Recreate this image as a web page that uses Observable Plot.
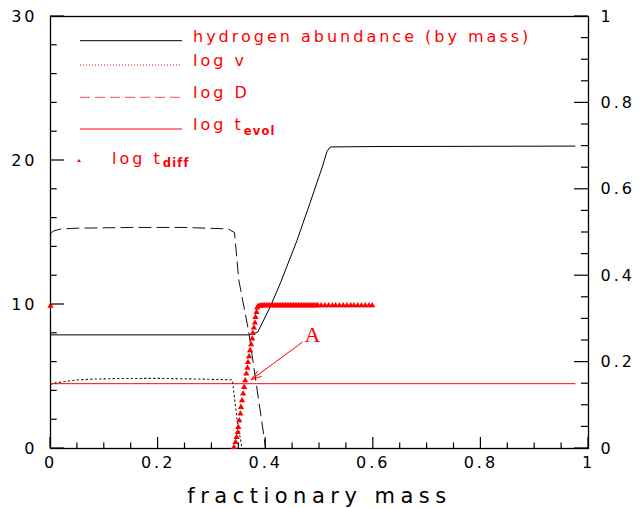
<!DOCTYPE html>
<html>
<head>
<meta charset="utf-8">
<script src="https://cdn.jsdelivr.net/npm/d3@7"></script>
<script src="https://cdn.jsdelivr.net/npm/@observablehq/plot@0.6"></script>
<style>
  html, body { margin: 0; padding: 0; background: #fff; }
  #chart { width: 644px; height: 508px; }
</style>
</head>
<body>
<div id="chart"></div>
<script>
// ---------- data ----------
const xMajor = [0, 0.2, 0.4, 0.6, 0.8, 1];
const xMinor = [0.05, 0.1, 0.15, 0.25, 0.3, 0.35, 0.45, 0.5, 0.55, 0.65, 0.7, 0.75, 0.85, 0.9, 0.95];
const leftMajor = [0, 10, 20, 30];
const leftMinor = [2, 4, 6, 8, 12, 14, 16, 18, 22, 24, 26, 28];
const rightMajor = [0, 0.2, 0.4, 0.6, 0.8, 1];
const rightMinor = [0.05, 0.1, 0.15, 0.25, 0.3, 0.35, 0.45, 0.5, 0.55, 0.65, 0.7, 0.75, 0.85, 0.9, 0.95];

// hydrogen abundance (right axis, 0..1)
const massH = [0, 0.368, 0.385, 0.408, 0.428, 0.458, 0.482, 0.505, 0.514, 0.52, 0.6, 0.975];
const hydrogen = [0.263, 0.263, 0.269, 0.327, 0.385, 0.481, 0.567, 0.651, 0.688, 0.698, 0.699, 0.7];

// log v (dotted)
const massV = [0, 0.01, 0.03, 0.05, 0.08, 0.13, 0.2, 0.28, 0.338, 0.347, 0.356];
const logV = [4.45, 4.56, 4.67, 4.77, 4.82, 4.86, 4.87, 4.82, 4.77, 1.95, 0];

// log D (dashed)
const massD = [0, 0.005, 0.02, 0.05, 0.15, 0.25, 0.33, 0.342, 0.35, 0.368, 0.4];
const logD = [14.9, 15.1, 15.25, 15.3, 15.35, 15.35, 15.25, 15.0, 11.7, 8.2, 0];

// log t_evol (red solid)
const massEvol = [0, 0.975];
const logEvol = [4.5, 4.5];

// log t_diff (red triangles)
const massDiff = [0,
  0.341, 0.344, 0.346, 0.348, 0.349, 0.351, 0.353, 0.354, 0.356, 0.358, 0.36, 0.362,
  0.364, 0.366, 0.367, 0.369, 0.371, 0.373, 0.375, 0.376, 0.378, 0.38, 0.381, 0.383, 0.384,
  0.386, 0.389, 0.392, 0.395, 0.398, 0.401, 0.404, 0.407, 0.41, 0.413, 0.416, 0.419, 0.422,
  0.425, 0.428, 0.431, 0.434, 0.437, 0.44, 0.443, 0.446, 0.449, 0.452, 0.455, 0.458, 0.461,
  0.464, 0.467, 0.47, 0.473, 0.476, 0.479, 0.482, 0.485, 0.488, 0.491, 0.494, 0.497,
  0.503, 0.51, 0.517, 0.524, 0.53, 0.537, 0.544, 0.551, 0.558, 0.564, 0.571, 0.578, 0.585, 0.592, 0.598];
const logDiff = [9.9,
  0.09, 0.44, 0.79, 1.13, 1.48, 1.94, 2.41, 2.87, 3.33, 3.8, 4.26, 4.72,
  5.19, 5.6, 5.99, 6.39, 6.81, 7.22, 7.62, 8.01, 8.38, 8.73, 9.12, 9.47, 9.77,
  9.88, 9.9, 9.92, 9.93, 9.93, 9.93, 9.93, 9.93, 9.93, 9.93, 9.93, 9.93, 9.93,
  9.93, 9.93, 9.93, 9.93, 9.93, 9.93, 9.93, 9.93, 9.93, 9.93, 9.93, 9.93, 9.93,
  9.93, 9.93, 9.93, 9.93, 9.93, 9.93, 9.93, 9.93, 9.93, 9.93, 9.93, 9.93,
  9.93, 9.93, 9.93, 9.93, 9.93, 9.93, 9.93, 9.93, 9.93, 9.93, 9.93, 9.93, 9.93, 9.93, 9.93];

// annotation "A" and its arrow
const annotText = ["A"];
const annotMass = [0.472];
const annotValue = [7.38];
const arrowFrom = [0.468, 7.38];
const arrowTo = [0.373, 4.77];

const legendLabels = ["hydrogen abundance (by mass)", "log v", "log D", "log t", "log t"];
const legendSubs = ["", "", "", "evol", "diff"];
const xLabel = "fractionary mass";

// ---------- build ----------
const RIGHT_SCALE = 30; // right axis 0..1 mapped onto left 0..30
const rowsH = massH.map((m, i) => ({m, v: hydrogen[i] * RIGHT_SCALE}));
const rowsV = massV.map((m, i) => ({m, v: logV[i]}));
const rowsD = massD.map((m, i) => ({m, v: logD[i]}));
const rowsE = massEvol.map((m, i) => ({m, v: logEvol[i]}));
const rowsT = massDiff.map((m, i) => ({m, v: logDiff[i]}));
const rowsA = annotText.map((t, i) => ({t, m: annotMass[i], v: annotValue[i]}));
const rowsArrow = [{x1: arrowFrom[0], y1: arrowFrom[1], x2: arrowTo[0], y2: arrowTo[1]}];

const fmt = d => String(+d.toFixed(2));

const plot = Plot.plot({
  width: 644,
  height: 508,
  marginTop: 16,
  marginRight: 56,
  marginBottom: 60,
  marginLeft: 50,
  style: {fontFamily: "DejaVu Sans", fontSize: "16px", background: "#fff", color: "#000", letterSpacing: "3px"},
  x: {domain: [0, 1]},
  y: {domain: [0, 30]},
  marks: [
    Plot.axisX({ticks: xMajor, tickSize: 0, tickPadding: 8, tickFormat: fmt, label: null}),
    Plot.axisY({ticks: leftMajor, anchor: "left", tickSize: 0, tickPadding: 13, tickFormat: fmt, label: null}),
    Plot.axisY({ticks: rightMajor.map(d => d * RIGHT_SCALE), anchor: "right", tickSize: 0, tickPadding: 12,
      tickFormat: d => fmt(d / RIGHT_SCALE), label: null}),
    Plot.frame({stroke: "#000", strokeWidth: 1.3}),
    // data
    Plot.line(rowsE, {x: "m", y: "v", stroke: "#ff0000", strokeWidth: 1}),
    Plot.line(rowsH, {x: "m", y: "v", stroke: "#000", strokeWidth: 1}),
    Plot.line(rowsV, {x: "m", y: "v", stroke: "#222", strokeWidth: 1.1, strokeDasharray: "1.5,3"}),
    Plot.line(rowsD, {x: "m", y: "v", stroke: "#111", strokeWidth: 1, strokeDasharray: "12,6"}),
    Plot.dot(rowsT, {x: "m", y: "v", symbol: "triangle", r: 2.3, fill: "#ff0000", stroke: "none"}),
    Plot.arrow(rowsArrow, {x1: "x1", y1: "y1", x2: "x2", y2: "y2", stroke: "#ff0000", strokeWidth: 1,
      headLength: 16, headAngle: 35}),
    Plot.text(rowsA, {x: "m", y: "v", text: "t", fill: "#ff0000", fontFamily: "Liberation Serif",
      fontSize: 22, textAnchor: "start", lineAnchor: "bottom"}),
    Plot.text([xLabel], {frameAnchor: "bottom", dy: 54, fontSize: 21, lineAnchor: "bottom", fill: "#000"})
  ]
});

document.getElementById("chart").appendChild(plot);

const svg = d3.select(plot);
svg.selectAll("text").filter(function () { return this.textContent === xLabel; })
  .style("letter-spacing", "5.5px");
svg.selectAll("text").filter(function () { return this.textContent === "A"; })
  .style("letter-spacing", "0px");

// ---------- inward ticks, positioned through Plot's own scales ----------
const sx = plot.scale("x"), sy = plot.scale("y");
const x0 = sx.apply(0), x1 = sx.apply(1), y0 = sy.apply(0);
const tg = svg.append("g").attr("stroke", "#000").attr("stroke-width", 1.2);
const tickX = (vals, len) => vals.forEach(v => {
  const px = sx.apply(v);
  tg.append("line").attr("x1", px).attr("x2", px).attr("y1", y0).attr("y2", y0 - len);
});
const tickL = (vals, len) => vals.forEach(v => {
  const py = sy.apply(v);
  tg.append("line").attr("x1", x0).attr("x2", x0 + len).attr("y1", py).attr("y2", py);
});
const tickR = (vals, len) => vals.forEach(v => {
  const py = sy.apply(v * RIGHT_SCALE);
  tg.append("line").attr("x1", x1).attr("x2", x1 - len).attr("y1", py).attr("y2", py);
});
tickX(xMajor, 11); tickX(xMinor, 5.5);
tickL(leftMajor, 14); tickL(leftMinor, 6.7);
tickR(rightMajor, 14); tickR(rightMinor, 7);

// ---------- legend (overlay) ----------
const lg = svg.append("g").attr("class", "legend").attr("fill", "#ff0000")
  .attr("text-anchor", "start").style("letter-spacing", "3px");
const lineX1 = 80, lineX2 = 182, textX = 193;
const rowsY = [40.7, 65, 97.3, 129];
const lineStyles = [
  {stroke: "#000", dash: null},
  {stroke: "#ff0000", dash: "1,2"},
  {stroke: "#f25050", dash: "10,5"},
  {stroke: "#ff0000", dash: null}
];
rowsY.forEach((y, i) => {
  lg.append("line").attr("x1", lineX1).attr("x2", lineX2).attr("y1", y).attr("y2", y)
    .attr("stroke", lineStyles[i].stroke).attr("stroke-width", 1)
    .attr("stroke-dasharray", lineStyles[i].dash);
  const t = lg.append("text").attr("x", textX).attr("y", y + 1).attr("font-size", 16)
    .attr("text-anchor", "start");
  t.append("tspan").text(legendLabels[i]);
  if (legendSubs[i]) {
    t.append("tspan").attr("dy", 5).attr("font-size", 11.5).attr("font-weight", "bold")
      .style("letter-spacing", "1.2px").text(legendSubs[i]);
  }
});
lg.append("path").attr("d", d3.symbol(d3.symbolTriangle, 6)()).attr("transform", "translate(79,161)")
  .attr("fill", "#ff0000");
const t5 = lg.append("text").attr("x", 112).attr("y", 164).attr("font-size", 16).attr("text-anchor", "start");
t5.append("tspan").text(legendLabels[4]);
t5.append("tspan").attr("dy", 3).attr("font-size", 11.5).attr("font-weight", "bold")
  .style("letter-spacing", "1.2px").text(legendSubs[4]);
</script>
</body>
</html>
